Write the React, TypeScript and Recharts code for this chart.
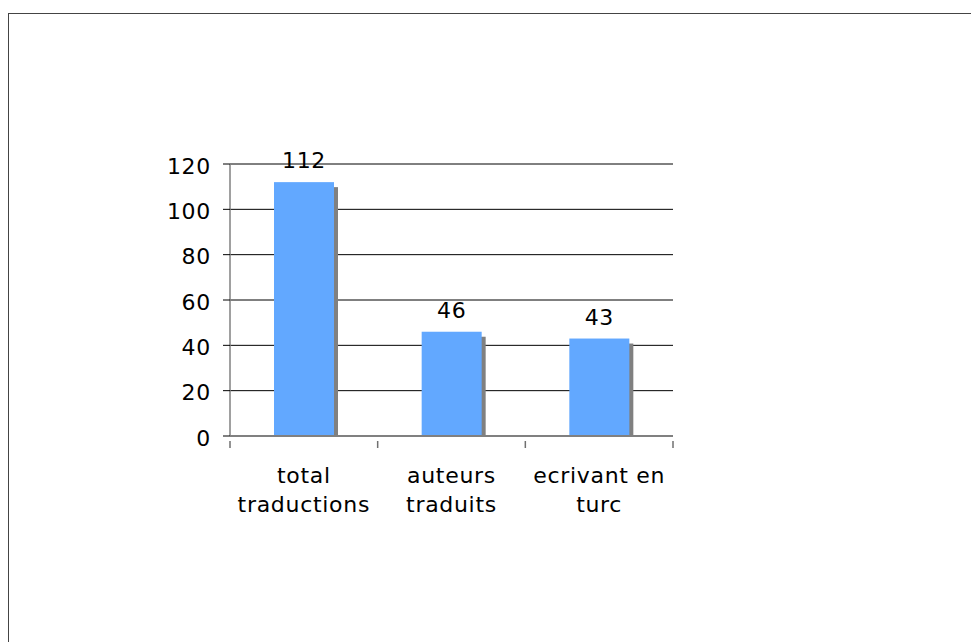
import { BarChart, Bar, XAxis, YAxis, CartesianGrid, LabelList } from "recharts";

const categories = ["total traductions", "auteurs traduits", "ecrivant en turc"];
const labelLines = [
  ["total", "traductions"],
  ["auteurs", "traduits"],
  ["ecrivant en", "turc"],
];
const values = [112, 46, 43];
const yTicks = [0, 20, 40, 60, 80, 100, 120];

const data = categories.map((name, i) => ({ name, value: values[i], lines: labelLines[i] }));

const FONT = "'DejaVu Sans', Verdana, sans-serif";
const BAND = 443 / 3;

const ShadowBar = (props: any) => {
  const { x, y, width, height } = props;
  return (
    <g>
      <rect x={x + 4} y={y + 5} width={width} height={Math.max(height - 5, 0)} fill="#808080" />
      <rect x={x} y={y} width={width} height={height} fill="#62a8ff" />
    </g>
  );
};

const CategoryTick = (props: any) => {
  const { x, y, payload, index } = props;
  const lines = labelLines[payload.index ?? index] || [];
  const axisY = y - 1;
  return (
    <g>
      <line x1={x - BAND / 2} y1={axisY} x2={x - BAND / 2} y2={axisY + 7} stroke="#707070" strokeWidth={1.5} />
      {index === categories.length - 1 && (
        <line x1={x + BAND / 2} y1={axisY} x2={x + BAND / 2} y2={axisY + 7} stroke="#707070" strokeWidth={1.5} />
      )}
      <text
        x={x}
        y={axisY + 42}
        textAnchor="middle"
        fontFamily={FONT}
        fontSize={22}
        letterSpacing={0.7}
        fill="#000"
      >
        {lines.map((l: string, i: number) => (
          <tspan key={i} x={x} dy={i === 0 ? 0 : 29}>
            {l}
          </tspan>
        ))}
      </text>
    </g>
  );
};

const ValueLabel = (props: any) => {
  const { x, y, width, value } = props;
  return (
    <text
      x={x + width / 2}
      y={y - 14}
      textAnchor="middle"
      fontFamily={FONT}
      fontSize={22}
      letterSpacing={0.7}
      fill="#000"
    >
      {value}
    </text>
  );
};

export default function App() {
  return (
    <div style={{ position: "absolute", left: 0, top: 0, width: 971, height: 642, overflow: "hidden", background: "#fff" }}>
      <div
        style={{
          position: "absolute",
          left: 8,
          top: 13,
          width: 980,
          height: 700,
          borderLeft: "1px solid #444",
          borderTop: "1px solid #444",
        }}
      />
      <div style={{ position: "absolute", left: 0, top: 0 }}>
        <BarChart
          width={971}
          height={642}
          data={data}
          margin={{ top: 164, right: 298, bottom: 126, left: 150 }}
        >
          <CartesianGrid vertical={false} stroke="#000" strokeOpacity={1} />
          <XAxis
            dataKey="name"
            interval={0}
            axisLine={{ stroke: "#808080", strokeWidth: 2 }}
            tickLine={false}
            tick={<CategoryTick />}
            height={80}
            tickMargin={0}
          />
          <YAxis
            domain={[0, 120]}
            ticks={yTicks}
            interval={0}
            width={80}
            tickSize={7}
            tickMargin={12}
            axisLine={{ stroke: "#808080", strokeWidth: 1.5 }}
            tickLine={{ stroke: "#000" }}
            tick={{ fontFamily: FONT, fontSize: 22, fill: "#000", letterSpacing: 0.7, dy: 2 }}
          />
          <Bar dataKey="value" barSize={60} shape={<ShadowBar />} isAnimationActive={false}>
            <LabelList dataKey="value" content={<ValueLabel />} />
          </Bar>
        </BarChart>
      </div>
    </div>
  );
}
